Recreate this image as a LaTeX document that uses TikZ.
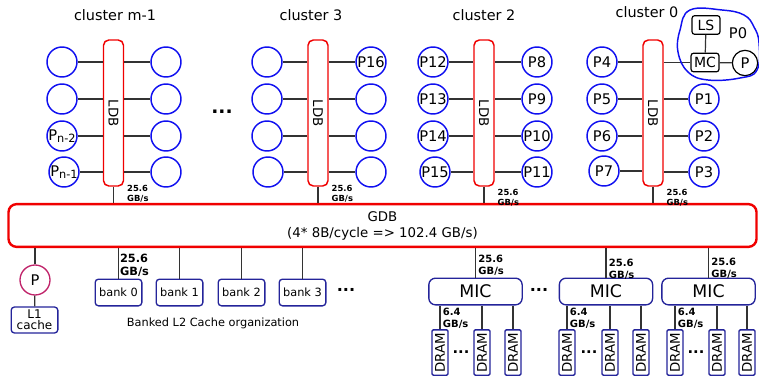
\documentclass[tikz,border=0pt]{standalone}
\usepackage{fontspec,graphicx}
\setmainfont{DejaVu Sans}
\usetikzlibrary{positioning,calc}
\definecolor{ldbred}{HTML}{F00000}
\definecolor{coreblue}{HTML}{1010F0}
\definecolor{navy}{HTML}{24249A}
\definecolor{plum}{HTML}{C0246A}

\begin{document}
\begin{tikzpicture}[x=0.75pt,y=-0.75pt,
  core/.style={circle,draw=coreblue,line width=1.1pt,minimum size=22.5pt,inner sep=0pt,font=\fontsize{11}{11}\selectfont},
  bus/.style={draw=ldbred,line width=1.1pt,rounded corners=4pt,minimum width=15pt,minimum height=109.5pt,inner sep=0pt,font=\fontsize{10}{10}\selectfont},
  box/.style={draw=navy,line width=1pt,rounded corners=2.5pt,inner sep=1pt},
  bank/.style={box,minimum width=35pt,minimum height=20pt,font=\fontsize{8.5}{10}\selectfont},
  mic/.style={box,rounded corners=5pt,minimum width=70pt,minimum height=20pt,font=\fontsize{13}{13}\selectfont},
  dram/.style={box,rounded corners=1pt,minimum width=12pt,minimum height=34pt,inner sep=0.5pt,font=\fontsize{10}{10}\selectfont},
  tile/.style={draw,line width=0.9pt,rounded corners=2pt,minimum width=21pt,minimum height=14pt,inner sep=1pt,font=\fontsize{10.5}{10.5}\selectfont},
  wire/.style={line width=0.9pt,black!80},
  bw/.style={font=\fontsize{6.3}{7}\bfseries\selectfont,align=left,inner sep=1pt},
  title/.style={font=\fontsize{10.8}{12}\selectfont}]
\useasboundingbox (0,0) rectangle (759,381);

% global bus
\node[draw=ldbred,line width=1.8pt,rounded corners=6pt,minimum width=561pt,minimum height=32pt,align=center,font=\fontsize{10}{12}\selectfont] (gdb) at (382.5,225.5) {GDB\\(4* 8B/cycle => 102.4 GB/s)};

% cluster m-1
\node[title] (tm) at (115,15) {cluster m-1};
\node[bus] (ldbm) at (113.5,113) {\rotatebox{-90}{LDB}};
\node[core] (cml1) at (62,62) {}; \node[core] (cml2) at (62,99) {};
\node[core] (cml3) at (62,136) {P\raisebox{-1pt}{\fontsize{8.5}{8}\selectfont n-2}}; \node[core] (cml4) at (64,172) {P\raisebox{-1pt}{\fontsize{8.5}{8}\selectfont n-1}};
\node[core] (cmr1) at (166,62) {}; \node[core] (cmr2) at (166,99) {}; \node[core] (cmr3) at (166,136) {}; \node[core] (cmr4) at (166,172) {};
\draw[wire] (cml1) -- (cml1 -| ldbm.west) (cml2) -- (cml2 -| ldbm.west) (cml3) -- (cml3 -| ldbm.west) (cml4) -- (cml4 -| ldbm.west);
\draw[wire] (cmr1) -- (cmr1 -| ldbm.east) (cmr2) -- (cmr2 -| ldbm.east) (cmr3) -- (cmr3 -| ldbm.east) (cmr4) -- (cmr4 -| ldbm.east);
\node[font=\fontsize{14}{14}\bfseries\selectfont] (dotsa) at (222,112) {...};

% cluster 3
\node[title] (tt) at (311,15) {cluster 3};
\node[bus] (ldbt) at (318,113) {\rotatebox{-90}{LDB}};
\node[core] (ctl1) at (267,62) {}; \node[core] (ctl2) at (267,99) {}; \node[core] (ctl3) at (267,136) {}; \node[core] (ctl4) at (268,172) {};
\node[core] (ctr1) at (371,62) {P16}; \node[core] (ctr2) at (371,99) {}; \node[core] (ctr3) at (371,136) {}; \node[core] (ctr4) at (371,172) {};
\draw[wire] (ctl1) -- (ctl1 -| ldbt.west) (ctl2) -- (ctl2 -| ldbt.west) (ctl3) -- (ctl3 -| ldbt.west) (ctl4) -- (ctl4 -| ldbt.west);
\draw[wire] (ctr1) -- (ctr1 -| ldbt.east) (ctr2) -- (ctr2 -| ldbt.east) (ctr3) -- (ctr3 -| ldbt.east) (ctr4) -- (ctr4 -| ldbt.east);

% cluster 2
\node[title] (tw) at (484,15) {cluster 2};
\node[bus] (ldbw) at (484,113) {\rotatebox{-90}{LDB}};
\node[core] (cwl1) at (433,62) {P12}; \node[core] (cwl2) at (433,99) {P13}; \node[core] (cwl3) at (433,136) {P14}; \node[core] (cwl4) at (435,172) {P15};
\node[core] (cwr1) at (537,62) {P8}; \node[core] (cwr2) at (537,99) {P9}; \node[core] (cwr3) at (537,136) {P10}; \node[core] (cwr4) at (537,172) {P11};
\draw[wire] (cwl1) -- (cwl1 -| ldbw.west) (cwl2) -- (cwl2 -| ldbw.west) (cwl3) -- (cwl3 -| ldbw.west) (cwl4) -- (cwl4 -| ldbw.west);
\draw[wire] (cwr1) -- (cwr1 -| ldbw.east) (cwr2) -- (cwr2 -| ldbw.east) (cwr3) -- (cwr3 -| ldbw.east) (cwr4) -- (cwr4 -| ldbw.east);

% cluster 0
\node[title] (tz) at (647,12) {cluster 0};
\node[bus] (ldbz) at (653,113) {\rotatebox{-90}{LDB}};
\node[core] (czl1) at (602,62) {P4}; \node[core] (czl2) at (602,99) {P5}; \node[core] (czl3) at (602,136) {P6}; \node[core] (czl4) at (604,171) {P7};
\node[core] (czr2) at (704,99) {P1}; \node[core] (czr3) at (704,136) {P2}; \node[core] (czr4) at (704,172) {P3};
\draw[wire] (czl1) -- (czl1 -| ldbz.west) (czl2) -- (czl2 -| ldbz.west) (czl3) -- (czl3 -| ldbz.west) (czl4) -- (czl4 -| ldbz.west);
\draw[wire] (czr2) -- (czr2 -| ldbz.east) (czr3) -- (czr3 -| ldbz.east) (czr4) -- (czr4 -| ldbz.east);
% P0 detail
\node[tile] (ls) at (706,25) {LS};
\node[tile] (mc) at (705,62.5) {MC};
\node[circle,draw,line width=0.9pt,minimum size=19pt,inner sep=0pt,font=\fontsize{11}{11}\selectfont] (pz) at (745,63) {P};
\node[font=\fontsize{11}{11}\selectfont] (pzname) at (738,33) {P0};
\draw[wire] (ls) -- (mc); \draw[wire] (mc) -- (pz); \draw[wire] (mc) -- (mc -| ldbz.east);
\draw[coreblue,line width=1.1pt] plot[smooth cycle,tension=0.7] coordinates {(690,10) (680,30) (678,52) (688,72) (708,80) (740,78) (757,70) (759,43) (754,27) (744,15) (722,10)};

% cluster to GDB links
\draw[wire] (ldbm) -- (ldbm |- gdb.north) (ldbt) -- (ldbt |- gdb.north) (ldbw) -- (ldbw |- gdb.north) (ldbz) -- (ldbz |- gdb.north);
\node[bw,anchor=north west] (bwm) at ([xshift=1pt,yshift=2pt]ldbm.south east) {25.6\\GB/s};
\node[bw,anchor=north west] (bwt) at ([xshift=1pt,yshift=2pt]ldbt.south east) {25.6\\GB/s};
\node[bw,anchor=north west] (bww) at ([xshift=1pt,yshift=-1pt]ldbw.south east) {25.6\\GB/s};
\node[bw,anchor=north west] (bwz) at ([xshift=1pt,yshift=-1pt]ldbz.south east) {25.6\\GB/s};

% L1 and L2 side
\node[circle,draw=plum,line width=1pt,minimum size=22.5pt,inner sep=0pt,font=\fontsize{11}{11}\selectfont] (pl) at (35,280) {P};
\node[box,minimum width=35pt,minimum height=19.5pt,align=center,font=\fontsize{9}{8}\selectfont] (lone) at (34.5,320) {L1\\cache};
\draw[wire] (pl) -- (pl |- gdb.south); \draw[wire] (pl) -- (lone);
\node[bank] (bk0) at (118.5,292.5) {bank 0}; \node[bank] (bk1) at (179.5,292.5) {bank 1};
\node[bank] (bk2) at (241.5,292.5) {bank 2}; \node[bank] (bk3) at (302.5,292.5) {bank 3};
\draw[wire] (bk0) -- (bk0 |- gdb.south) (bk1) -- (bk1 |- gdb.south) (bk2) -- (bk2 |- gdb.south) (bk3) -- (bk3 |- gdb.south);
\node[bw,font=\fontsize{8.5}{10}\bfseries\selectfont,anchor=north west] (bwbk) at ([yshift=-3pt]bk0.north |- gdb.south) {25.6\\GB/s};
\node[font=\fontsize{12}{12}\bfseries\selectfont] (dotsb) at (346,290) {...};
\node[font=\fontsize{8.5}{10}\selectfont] (ltwo) at (213,323) {Banked L2 Cache organization};

% memory controllers
\node[mic] (mic1) at (475.5,291.5) {MIC}; \node[mic] (mic2) at (606,291.5) {MIC}; \node[mic] (mic3) at (708.5,291.5) {MIC};
\draw[wire] (mic1) -- (mic1 |- gdb.south) (mic2) -- (mic2 |- gdb.south) (mic3) -- (mic3 |- gdb.south);
\node[bw,font=\fontsize{7.5}{9}\bfseries\selectfont,anchor=north west] (bwmi) at ([xshift=1pt,yshift=-4pt]mic1.north |- gdb.south) {25.6\\GB/s};
\node[bw,font=\fontsize{7.5}{9}\bfseries\selectfont,anchor=north west] (bwmii) at ([xshift=1pt,yshift=-7pt]mic2.north |- gdb.south) {25.6\\GB/s};
\node[bw,font=\fontsize{7.5}{9}\bfseries\selectfont,anchor=north west] (bwmiii) at ([xshift=1pt,yshift=-6pt]mic3.north |- gdb.south) {25.6\\GB/s};
\node[font=\fontsize{12}{12}\bfseries\selectfont] (dotsc) at (539,290) {...};

% DRAM channels
\node[dram] (d1a) at (440,352.5) {\rotatebox{90}{DRAM}}; \node[dram] (d1b) at (482,352.5) {\rotatebox{90}{DRAM}}; \node[dram] (d1c) at (513,352.5) {\rotatebox{90}{DRAM}};
\node[dram] (d2a) at (567,352.5) {\rotatebox{90}{DRAM}}; \node[dram] (d2b) at (610,352.5) {\rotatebox{90}{DRAM}}; \node[dram] (d2c) at (641,352.5) {\rotatebox{90}{DRAM}};
\node[dram] (d3a) at (675,352.5) {\rotatebox{90}{DRAM}}; \node[dram] (d3b) at (717,352.5) {\rotatebox{90}{DRAM}}; \node[dram] (d3c) at (747,352.5) {\rotatebox{90}{DRAM}};
\draw[wire] (d1a) -- (d1a |- mic1.south) (d1b) -- (d1b |- mic1.south) (d1c) -- (d1c |- mic1.south);
\draw[wire] (d2a) -- (d2a |- mic2.south) (d2b) -- (d2b |- mic2.south) (d2c) -- (d2c |- mic2.south);
\draw[wire] (d3a) -- (d3a |- mic3.south) (d3b) -- (d3b |- mic3.south) (d3c) -- (d3c |- mic3.south);
\node[bw,font=\fontsize{7.5}{9}\bfseries\selectfont,anchor=north west] (bwda) at ([xshift=1pt,yshift=-1pt]d1a.north |- mic1.south) {6.4\\GB/s};
\node[bw,font=\fontsize{7.5}{9}\bfseries\selectfont,anchor=north west] (bwdb) at ([xshift=1pt,yshift=-1pt]d2a.north |- mic2.south) {6.4\\GB/s};
\node[bw,font=\fontsize{7.5}{9}\bfseries\selectfont,anchor=north west] (bwdc) at ([xshift=1pt,yshift=-1pt]d3a.north |- mic3.south) {6.4\\GB/s};
\node[font=\fontsize{11}{11}\bfseries\selectfont] (dda) at (461,352) {...};
\node[font=\fontsize{11}{11}\bfseries\selectfont] (ddb) at (589,352) {...};
\node[font=\fontsize{11}{11}\bfseries\selectfont] (ddc) at (696,352) {...};
\end{tikzpicture}
\end{document}
